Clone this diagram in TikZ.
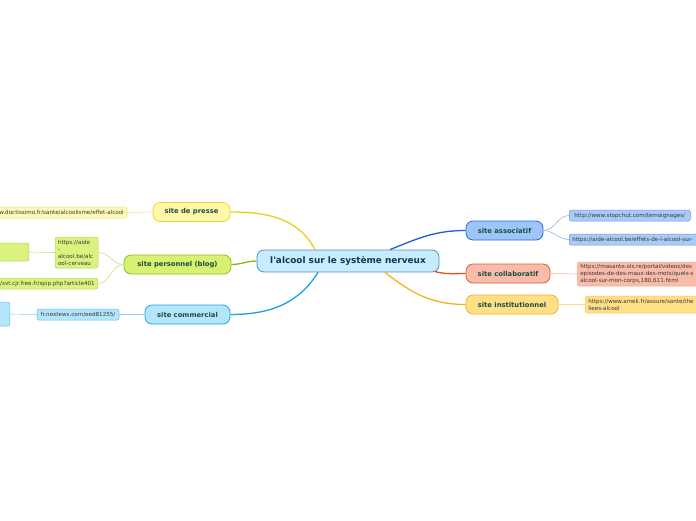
\documentclass[tikz,border=0pt]{standalone}
\usepackage{fontspec}
\setsansfont{DejaVu Sans}
\definecolor{topicfill}{HTML}{C8ECFB}
\definecolor{topicdraw}{HTML}{4A90D9}
\definecolor{topictext}{HTML}{15345A}
\definecolor{branchtext}{HTML}{1E4D40}
\definecolor{pressfill}{HTML}{FFF8A8}
\definecolor{pressdraw}{HTML}{E8D33A}
\definecolor{pressline}{HTML}{E8D020}
\definecolor{blogfill}{HTML}{D6F270}
\definecolor{blogdraw}{HTML}{8DC21F}
\definecolor{blogline}{HTML}{86BC10}
\definecolor{shopfill}{HTML}{B3E5FB}
\definecolor{shopdraw}{HTML}{25A7E3}
\definecolor{shopline}{HTML}{1EA0E0}
\definecolor{assofill}{HTML}{9EC5F7}
\definecolor{assodraw}{HTML}{2769D3}
\definecolor{assoline}{HTML}{1F5FCF}
\definecolor{collabfill}{HTML}{F9BCAA}
\definecolor{collabdraw}{HTML}{E35A2F}
\definecolor{collabline}{HTML}{E8501E}
\definecolor{instfill}{HTML}{FFDF88}
\definecolor{instdraw}{HTML}{F6B519}
\definecolor{instline}{HTML}{F5B21E}
\begin{document}
\begin{tikzpicture}[x=1pt, y=-1pt, font=\sffamily,
          topic/.style={draw=topicdraw, fill=topicfill, rounded corners=7pt, line width=0.8pt, inner sep=0pt,
            minimum width=182pt, minimum height=22pt, text=topictext, font=\sffamily\bfseries\fontsize{8.9}{10}\selectfont},
          branch/.style={rounded corners=7pt, line width=0.8pt, inner sep=0pt, minimum height=19pt,
            text=branchtext, font=\sffamily\bfseries\fontsize{6.8}{8}\selectfont},
          leaf/.style={rounded corners=2pt, line width=0.5pt, inner xsep=3pt, inner ysep=0pt, minimum height=11pt,
            align=left, text=black!78, font=\sffamily\fontsize{5.6}{7}\selectfont},
          main/.style={line width=1.3pt},
          sub/.style={line width=0.6pt}]
        \useasboundingbox (0,0) rectangle (696,520);
        \clip (0,0) rectangle (696,520);
        \fill[white] (0,0) rectangle (696,520);
        % centre
        \node[topic] (topic) at (348,261) {l\textquotesingle alcool sur le système nerveux};
        % left side
        \node[branch, draw=pressdraw, fill=pressfill, minimum width=77pt] (presse) at (191.5,212) {site de presse};
        \node[branch, draw=blogdraw, fill=blogfill, minimum width=107pt] (blog) at (177.5,264.5) {site personnel (blog)};
        \node[branch, draw=shopdraw, fill=shopfill, minimum width=85pt] (shop) at (187.5,314.5) {site commercial};
        \node[leaf, draw=pressdraw!70, fill=pressfill!80, anchor=east, text width=136pt, align=right] (doct) at (127,212.5) {w.doctissimo.fr/sante/alcoolisme/effet-alcool};
        \node[leaf, draw=blogdraw!70, fill=blogfill!90, text width=37pt, minimum height=31pt, inner xsep=3pt] (aide) at (76.5,252.5) {https://aide\\-\\alcool.be/alc\\ool-cerveau};
        \node[leaf, draw=blogdraw!70, fill=blogfill!90, anchor=east, minimum width=44pt, minimum height=18pt] (blank1) at (29,252) {};
        \node[leaf, draw=blogdraw!70, fill=blogfill!90, anchor=east, text width=110pt, align=right] (svt) at (98,283.5) {/svt.cjr.free.fr/spip.php?article401};
        \node[leaf, draw=shopdraw!70, fill=shopfill, minimum width=82pt, align=center, inner xsep=1pt] (nextews) at (78,314.5) {fr.nextews.com/eed81255/};
        \node[leaf, draw=shopdraw!70, fill=shopfill, anchor=east, minimum width=30pt, minimum height=24pt] (blank2) at (10,314) {};
        % right side
        \node[branch, draw=assodraw, fill=assofill, minimum width=77pt] (asso) at (504.5,230.5) {site associatif};
        \node[branch, draw=collabdraw, fill=collabfill, minimum width=84pt] (collab) at (508,273.5) {site collaboratif};
        \node[branch, draw=instdraw, fill=instfill, minimum width=92pt] (inst) at (512,304.5) {site institutionnel};
        \node[leaf, draw=assodraw!70, fill=assofill!90, anchor=west, minimum width=121pt] (stopchut) at (569,215.5) {http://www.stopchut.com/temoignages/};
        \node[leaf, draw=assodraw!70, fill=assofill!90, anchor=west, text width=150pt] (effets) at (569,239.5) {https://aide-alcool.be/effets-de-l-alcool-sur-};
        \node[leaf, draw=collabdraw!50, fill=collabfill, anchor=west, text width=150pt, minimum height=24pt] (masante) at (577,274) {https://masante.ols.re/portal/videos/des\\episodes-de-des-maux-des-mots/quels-s\\alcool-sur-mon-corps,180,611.html};
        \node[leaf, draw=instdraw!70, fill=instfill, anchor=west, text width=150pt, minimum height=17pt] (ameli) at (585,304.5) {https://www.ameli.fr/assure/sante/the\\liees-alcool};
        % branches
        \draw[main, pressline] (topic.north) ++(-33,0) to[out=118, in=0] (presse.east);
        \draw[main, blogline] (topic.west) to[out=180, in=0] (blog.east);
        \draw[main, shopline] (topic.south) ++(-30,0) to[out=238, in=0] (shop.east);
        \draw[main, assoline] (topic.north) ++(42,0) to[out=22, in=180] (asso.west);
        \draw[main, collabline] (topic.south east) ++(-5,-1) to[out=-15, in=180] (collab.west);
        \draw[main, instline] (topic.south) ++(37,0) to[out=-38, in=180] (inst.west);
        % leaves
        \draw[sub, pressdraw!60] (presse.west) -- (doct.east);
        \draw[sub, blogdraw!50] (blog.west) to[out=180, in=0] (aide.east);
        \draw[sub, blogdraw!50] (blog.west) to[out=180, in=0] (svt.east);
        \draw[sub, blogdraw!50] (aide.west) -- (blank1.east);
        \draw[sub, shopdraw!50] (shop.west) -- (nextews.east);
        \draw[sub, shopdraw!50] (nextews.west) -- (blank2.east);
        \draw[sub, assodraw!50] (asso.east) to[out=0, in=180] (stopchut.west);
        \draw[sub, assodraw!50] (asso.east) to[out=0, in=180] (effets.west);
        \draw[sub, collabdraw!45] (collab.east) -- (masante.west);
        \draw[sub, instdraw!50] (inst.east) -- (ameli.west);
      \end{tikzpicture}
\end{document}
